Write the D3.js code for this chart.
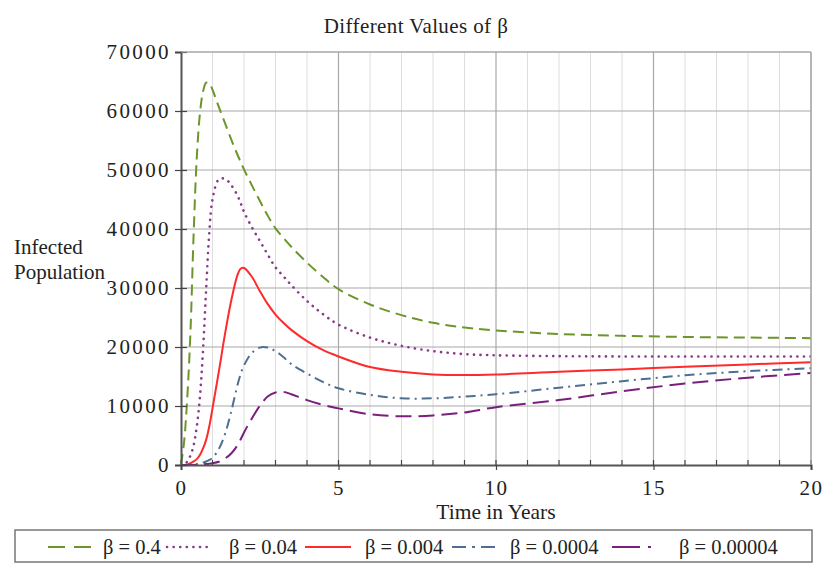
<!DOCTYPE html>
<html>
<head>
<meta charset="utf-8">
<script src="https://cdn.jsdelivr.net/npm/d3@7/dist/d3.min.js"></script>
<style>
  body { margin: 0; background: #fff; }
  svg { display: block; }
  text { font-family: "Liberation Serif", "DejaVu Serif", serif; fill: #222; }
</style>
</head>
<body>
<svg id="chart" width="823" height="563"></svg>
<script>
// ---------- data ----------
const title = "Different Values of  \u03B2";
const xLabel = "Time in Years";
const yLabelLines = ["Infected", "Population"];
const xTicks = [0, 5, 10, 15, 20];
const xMinorTicks = d3.range(0, 21, 1);
const yTicks = [0, 10000, 20000, 30000, 40000, 50000, 60000, 70000];

const time = [0, 0.1, 0.2, 0.3, 0.4, 0.5, 0.6, 0.7, 0.8, 0.9, 1.0, 1.2, 1.4, 1.6, 1.8, 1.9, 2.0, 2.25, 2.5, 2.75, 3.0, 3.25, 3.5, 4, 4.5, 5, 6, 7, 8, 9, 10, 12, 14, 16, 18, 20];

const beta04 =     [0, 4000, 11500, 22500, 39000, 52000, 59500, 63300, 64800, 64700, 63600, 60700, 57900, 55100, 52500, 51300, 50100, 47400, 44800, 42300, 40100, 38500, 37000, 34300, 31900, 29800, 27200, 25400, 24100, 23300, 22800, 22200, 21900, 21700, 21600, 21500];
const beta004 =    [0, 100, 600, 1600, 3300, 6500, 11500, 19500, 30000, 39500, 45000, 48400, 48500, 47400, 45600, 44300, 42900, 40300, 38000, 35700, 33500, 32000, 30500, 27800, 25600, 23800, 21600, 20200, 19300, 18800, 18600, 18450, 18400, 18400, 18400, 18400];
const beta0004 =   [0, 20, 100, 300, 600, 1000, 1700, 2800, 4300, 6600, 9600, 15800, 22300, 28000, 32300, 33300, 33400, 31900, 29500, 27300, 25500, 24100, 22900, 21000, 19500, 18400, 16600, 15800, 15350, 15250, 15350, 15800, 16200, 16650, 17050, 17400];
const beta00004 =  [0, 0, 10, 30, 70, 150, 250, 400, 600, 850, 1200, 2700, 5300, 9200, 13700, 15500, 16900, 19000, 19900, 19900, 19300, 18300, 17100, 15500, 14100, 13000, 11900, 11300, 11300, 11600, 12000, 13100, 14200, 15200, 15900, 16400];
const beta000004 = [0, 0, 0, 5, 10, 30, 60, 100, 150, 220, 300, 550, 1100, 2000, 3400, 4400, 5500, 7900, 10000, 11600, 12300, 12400, 12000, 11000, 10200, 9600, 8600, 8250, 8400, 8900, 9800, 11000, 12500, 13800, 14800, 15600];

const seriesNames = ["\u03B2 = 0.4", "\u03B2 = 0.04", "\u03B2 = 0.004", "\u03B2 = 0.0004", "\u03B2 = 0.00004"];
const seriesValues = [beta04, beta004, beta0004, beta00004, beta000004];

// ---------- styles ----------
const styles = [
  { color: "#6b972a", dash: "11,6", legendDash: "17,9", width: 2, cap: "butt" },
  { color: "#8a3a8c", dash: "0.1,6.5", legendDash: "0.1,6.5", width: 2.6, cap: "round" },
  { color: "#ff2a2a", dash: null, legendDash: null, width: 2, cap: "butt" },
  { color: "#4f6f92", dash: "10,5,2,5", legendDash: "14,6,3,6", width: 2, cap: "butt" },
  { color: "#7a1f7e", dash: "16,7", legendDash: "28,8,3,8", width: 2, cap: "butt" }
];
const legendSampleX = [48, 167, 305, 452, 612];
const legendTextX = [103, 229, 365, 510, 679];

const svg = d3.select("#chart");
const x = d3.scaleLinear().domain([0, 20]).range([181, 811]);
const y = d3.scaleLinear().domain([0, 70000]).range([465, 52]);

// grid
const grid = svg.append("g");
grid.selectAll(".vminor").data(xMinorTicks.filter(d => d % 5 !== 0)).enter().append("line")
  .attr("x1", d => x(d)).attr("x2", d => x(d)).attr("y1", y(0)).attr("y2", y(70000))
  .attr("stroke", "#dedede").attr("stroke-width", 1);
grid.selectAll(".vmajor").data(xTicks.filter(d => d > 0)).enter().append("line")
  .attr("x1", d => x(d)).attr("x2", d => x(d)).attr("y1", y(0)).attr("y2", y(70000))
  .attr("stroke", "#a8a8a8").attr("stroke-width", 1.2);
grid.selectAll(".hmajor").data(yTicks.filter(d => d > 0)).enter().append("line")
  .attr("x1", x(0)).attr("x2", x(20)).attr("y1", d => y(d)).attr("y2", d => y(d))
  .attr("stroke", "#a8a8a8").attr("stroke-width", 1.2);

// clip
svg.append("clipPath").attr("id", "clip").append("rect")
  .attr("x", x(0)).attr("y", y(70000)).attr("width", x(20) - x(0)).attr("height", y(0) - y(70000));

// lines
const line = d3.line().x((d, i) => x(time[i])).y(d => y(Math.max(0, d))).curve(d3.curveCatmullRom.alpha(0.5));
const lines = svg.append("g").attr("clip-path", "url(#clip)");
seriesValues.forEach((vals, k) => {
  const s = styles[k];
  lines.append("path").datum(vals).attr("d", line)
    .attr("fill", "none").attr("stroke", s.color).attr("stroke-width", s.width)
    .attr("stroke-dasharray", s.dash).attr("stroke-linecap", s.cap).attr("stroke-linejoin", "round");
});

// axes
const tickFont = g => g.selectAll(".tick text")
  .style("font-family", "Liberation Serif, serif").style("font-size", "21px")
  .style("letter-spacing", "2.4px").attr("fill", "#333");
const xAxis = d3.axisBottom(x).tickValues(xTicks).tickSize(5).tickPadding(10).tickFormat(d3.format("d"));
const gx = svg.append("g").attr("transform", `translate(0,${y(0)})`).call(xAxis);
gx.selectAll(".minor").data(xMinorTicks).enter().append("line")
  .attr("x1", d => x(d)).attr("x2", d => x(d)).attr("y1", 0).attr("y2", -5)
  .attr("stroke", "#444").attr("stroke-width", 1.2);
const yAxis = d3.axisLeft(y).tickValues(yTicks).tickSize(6).tickPadding(4).tickFormat(d3.format("d"));
const gy = svg.append("g").attr("transform", `translate(${x(0)},0)`).call(yAxis);
[gx, gy].forEach(g => {
  g.select(".domain").attr("stroke", "#555").attr("stroke-width", 2);
  g.selectAll(".tick line").attr("stroke", "#444").attr("stroke-width", 1.2);
  tickFont(g);
});
gx.selectAll(".tick text").style("letter-spacing", "1.6px");
gy.selectAll(".tick").append("line").attr("x1", 0).attr("x2", 6).attr("stroke", "#444").attr("stroke-width", 1.2);

// frame top & right
svg.append("line").attr("x1", x(0)).attr("x2", x(20)).attr("y1", y(70000)).attr("y2", y(70000)).attr("stroke", "#a8a8a8").attr("stroke-width", 1.2);
svg.append("line").attr("x1", x(20)).attr("x2", x(20)).attr("y1", y(70000)).attr("y2", y(0)).attr("stroke", "#a8a8a8").attr("stroke-width", 1.2);

// titles
svg.append("text").attr("x", 416).attr("y", 33).attr("text-anchor", "middle")
  .style("font-size", "21px").style("letter-spacing", "0.4px").text(title);
svg.append("text").attr("x", 496).attr("y", 519).attr("text-anchor", "middle")
  .style("font-size", "21.5px").text(xLabel);
yLabelLines.forEach((t, i) => {
  svg.append("text").attr("x", 14).attr("y", 254 + i * 25).style("font-size", "21px").text(t);
});

// legend
svg.append("rect").attr("x", 15).attr("y", 530).attr("width", 797).attr("height", 32)
  .attr("fill", "#fff").attr("stroke", "#777").attr("stroke-width", 1.5);
const ly = 548;
seriesNames.forEach((name, k) => {
  const s = styles[k];
  svg.append("line").attr("x1", legendSampleX[k]).attr("x2", legendSampleX[k] + 46).attr("y1", ly - 1).attr("y2", ly - 1)
    .attr("stroke", s.color).attr("stroke-width", s.width).attr("stroke-dasharray", s.legendDash).attr("stroke-linecap", s.cap);
  svg.append("text").attr("x", legendTextX[k]).attr("y", ly + 6).style("font-size", "20.5px").text(name);
});
</script>
</body>
</html>
